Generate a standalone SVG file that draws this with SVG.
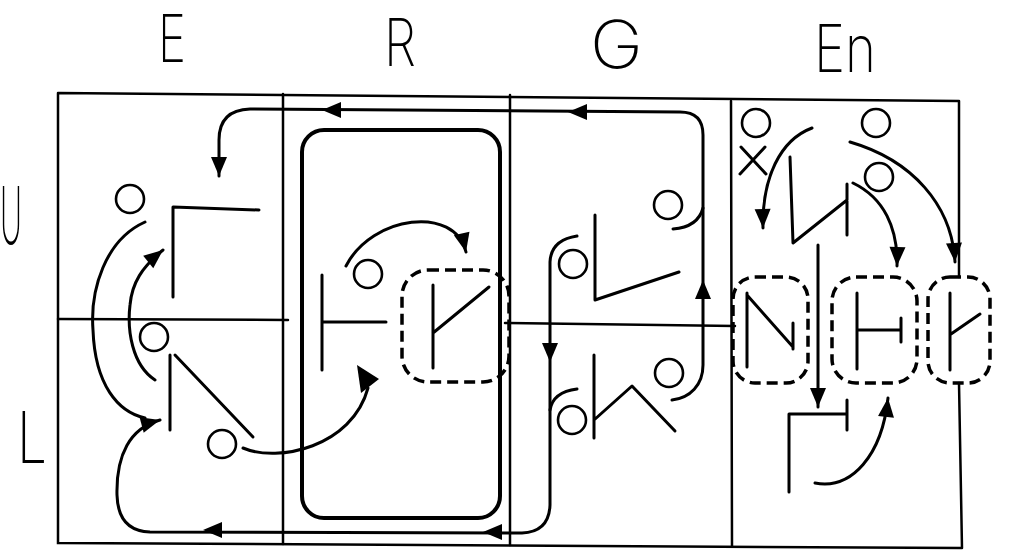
<svg xmlns="http://www.w3.org/2000/svg" width="1009" height="551" viewBox="0 0 1009 551">
<style>
.f{fill:none;stroke:#000;stroke-width:2.5;stroke-linecap:round}
.c{fill:none;stroke:#000;stroke-width:3;stroke-linecap:round}
.s{fill:none;stroke:#000;stroke-width:3;stroke-linecap:round;stroke-linejoin:round}
.o{fill:none;stroke:#000;stroke-width:2.6}
.d{fill:none;stroke:#000;stroke-width:3.5;stroke-dasharray:11 6}
.loop{fill:none;stroke:#000;stroke-width:4}
.t{font-family:Inter,"Liberation Sans",sans-serif;font-weight:200;fill:#000}
.ah{fill:#000}
</style>
<defs>
<marker id="arr" markerUnits="userSpaceOnUse" markerWidth="26" markerHeight="22" viewBox="-21 -11 23 22" refX="0" refY="0" orient="auto">
<path d="M0,0 L-19,-8 L-19,8 Z" fill="#000"/>
</marker>
<path id="tri" d="M0,0 L-19,-8 L-19,8 Z"/>
</defs>

<g id="headers">
<text class="t" x="158" y="62" font-size="66" textLength="28" lengthAdjust="spacingAndGlyphs">E</text>
<text class="t" x="384" y="66" font-size="66" textLength="32" lengthAdjust="spacingAndGlyphs">R</text>
<text class="t" x="590" y="68" font-size="66" textLength="53" lengthAdjust="spacingAndGlyphs">G</text>
<text class="t" x="814" y="72" font-size="66" textLength="62" lengthAdjust="spacingAndGlyphs">En</text>
<text class="t" x="0" y="244" font-size="80" textLength="22" lengthAdjust="spacingAndGlyphs">U</text>
<text class="t" x="17" y="463" font-size="72" textLength="30" lengthAdjust="spacingAndGlyphs">L</text>
</g>

<g id="frame">
<path class="f" d="M58,93 L959,101 M58,93 L58,543 L962,548 M959,101 L959,277 M959,383 L962,548"/>
<path class="f" d="M283,94 L283,544 M510,95 L510,545 M731,101 L732,546"/>
<path class="f" d="M58,319 L288,320 M505,323 L735,326"/>
</g>

<g id="connectors">
<path class="c" d="M672,400 C690,398 703,385 703,365 L703,135 Q703,112 680,112 L250,109 Q219,110 219,140 L219,176" marker-end="url(#arr)"/>
<use href="#tri" transform="translate(568,112) rotate(180)"/>
<use href="#tri" transform="translate(322,110) rotate(180)"/>
<use href="#tri" transform="translate(703,280) rotate(-90)"/>
<path class="c" d="M673,229 Q698,227 703,208"/>
<path class="c" d="M577,236 Q551,240 550,262 L550,505 Q549,532 522,533 L150,532 Q118,531 117,495 C116,455 130,428 160,420" marker-end="url(#arr)"/>
<use href="#tri" transform="translate(550,362) rotate(90)"/>
<use href="#tri" transform="translate(203,530) rotate(180)"/>
<use href="#tri" transform="translate(483,532) rotate(180)"/>
<path class="c" d="M550,410 Q553,392 577,389"/>
<path class="c" d="M145,222 C105,240 90,290 93,330 C95,385 118,412 145,418"/>
<path class="c" d="M155,380 C132,365 127,330 130,305 C132,283 142,267 163,250" marker-end="url(#arr)"/>
<path class="c" d="M243,448 C278,463 352,447 368,388"/>
<polygon class="ah" points="357,365 379,379 361,393"/>
<path class="c" d="M346,266 C372,215 455,205 466,252" marker-end="url(#arr)"/>
<path class="c" d="M812,128 C780,140 762,178 763,228" marker-end="url(#arr)"/>
<path class="c" d="M853,183 C884,198 898,228 897,266" marker-end="url(#arr)"/>
<path class="c" d="M850,142 C912,160 952,205 955,262" marker-end="url(#arr)"/>
<path class="c" d="M818,245 L818,407" marker-end="url(#arr)"/>
<path class="c" d="M815,483 C852,490 882,455 888,398" marker-end="url(#arr)"/>
</g>

<g id="node-E-upper">
<circle class="o" cx="130" cy="199" r="14"/>
<path class="s" d="M173,297 L173,207 L259,210"/>
</g>

<g id="node-E-lower">
<circle class="o" cx="154" cy="337" r="14"/>
<path class="s" d="M170,355 L170,430 M175,355 L253,437"/>
<circle class="o" cx="222" cy="444" r="14"/>
</g>

<g id="node-R">
<rect class="loop" x="302" y="130" width="198" height="388" rx="22"/>
<path class="s" d="M322,275 L322,370 M322,322 L386,322"/>
<circle class="o" cx="368" cy="274" r="14"/>
<rect class="d" x="402" y="270" width="107" height="112" rx="26"/>
<path class="s" d="M433,285 L433,368 M433,333 L489,287"/>
</g>

<g id="node-G-upper">
<circle class="o" cx="573" cy="264" r="14"/>
<circle class="o" cx="668" cy="205" r="14"/>
<path class="s" d="M595,215 L595,300 L679,272"/>
</g>

<g id="node-G-lower">
<circle class="o" cx="572" cy="420" r="14"/>
<circle class="o" cx="669" cy="373" r="14"/>
<path class="s" d="M594,355 L594,438 M594,420 L632,386 L675,431"/>
</g>

<g id="node-En-upper">
<circle class="o" cx="756" cy="123" r="14"/>
<path class="s" d="M741,147 L766,174 M765,147 L740,174"/>
<circle class="o" cx="876" cy="123" r="14"/>
<circle class="o" cx="879" cy="177" r="14"/>
<path class="s" d="M790,157 L793,243 L847,200 M847,184 L847,235"/>
</g>

<g id="node-En-N">
<rect class="d" x="733" y="277" width="75" height="106" rx="22"/>
<path class="s" d="M747,293 L747,367 M747,295 L793,347 M793,323 L793,349"/>
</g>

<g id="node-En-H">
<rect class="d" x="832" y="277" width="85" height="106" rx="24"/>
<path class="s" d="M857,293 L857,369 M857,330 L901,330 M901,318 L901,342"/>
</g>

<g id="node-En-K">
<rect class="d" x="928" y="277" width="62" height="106" rx="22"/>
<path class="s" d="M950,293 L950,370 M951,334 L980,314"/>
</g>

<g id="node-En-lower">
<path class="s" d="M789,492 L789,414 L847,414 M847,400 L847,430"/>
</g>
</svg>
